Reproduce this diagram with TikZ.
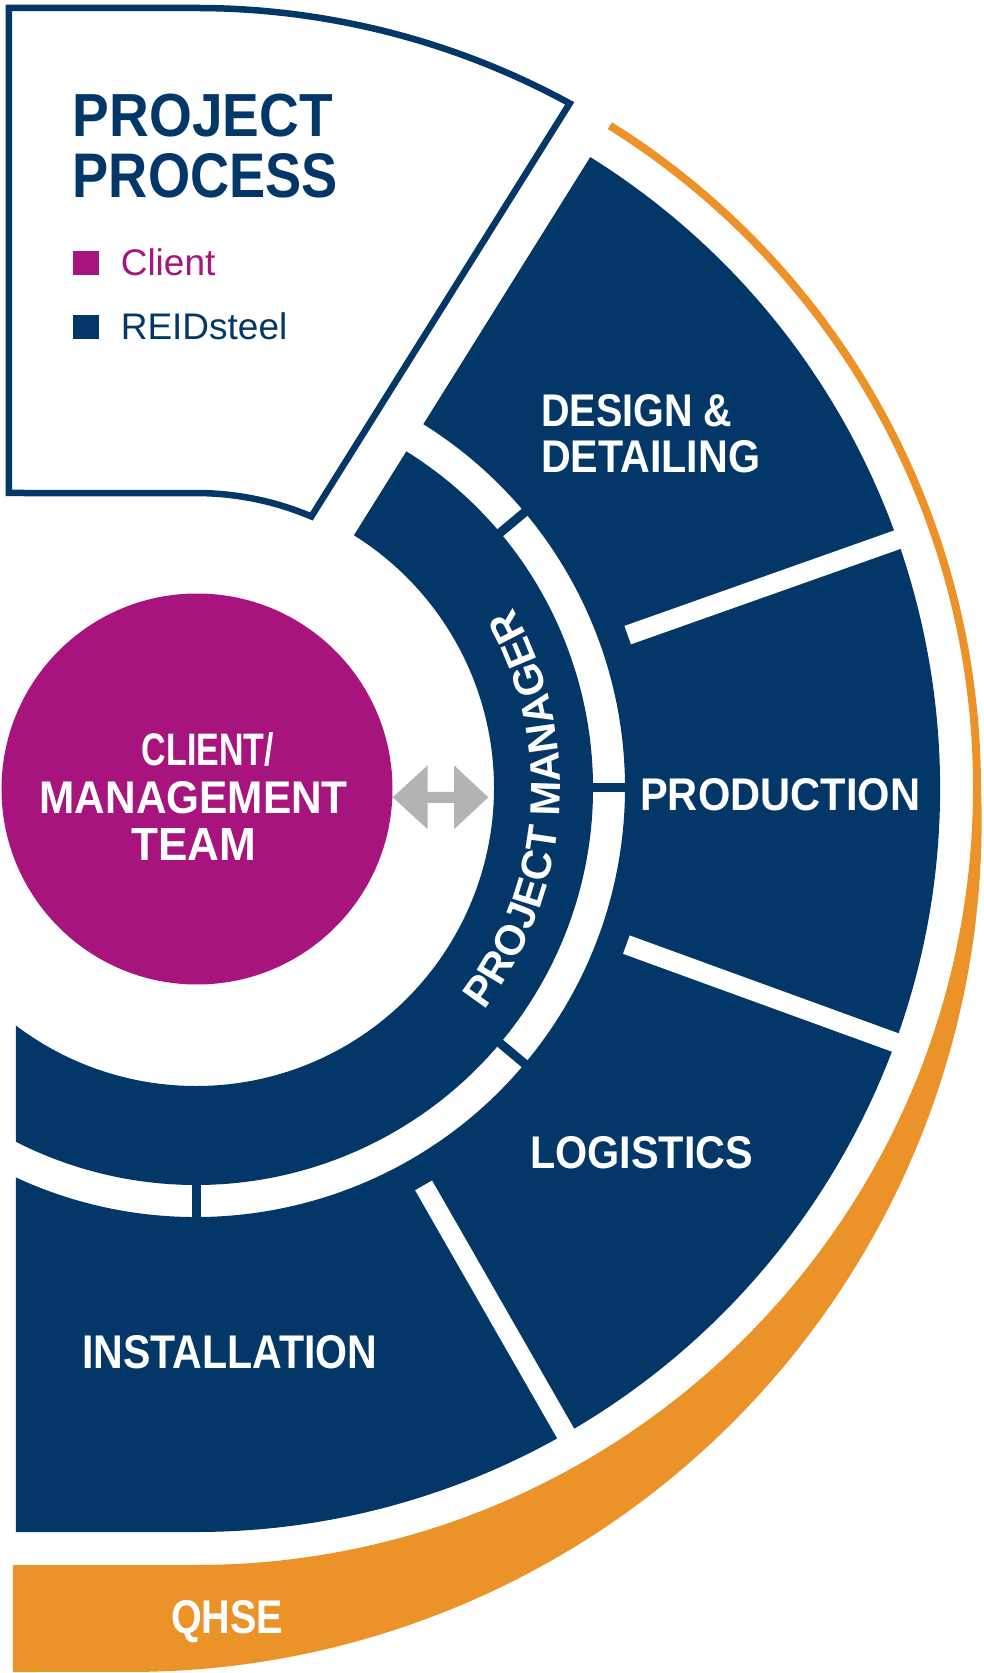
\documentclass[tikz,border=0pt]{standalone}
\usepackage{fontspec}
\usepackage{graphicx}
\usetikzlibrary{decorations.text}
\setmainfont{Liberation Sans}
\newfontfamily\heavy{Liberation Sans Bold}
\newfontfamily\plainsans{Liberation Sans}
\definecolor{rsnavy}{RGB}{3,55,104}
\definecolor{rsmag}{RGB}{168,20,126}
\definecolor{rsorange}{RGB}{235,146,41}
\definecolor{rsgrey}{RGB}{179,179,179}
\newcommand{\fitbox}[3]{\resizebox{#1pt}{#2pt}{#3}}
\tikzset{
  seglabel/.style={text=white, anchor=base west, inner sep=0pt, font=\heavy\fontsize{41}{41}\selectfont},
  centrelabel/.style={text=white, anchor=base, inner sep=0pt, font=\heavy\fontsize{42}{42}\selectfont},
  titlelabel/.style={text=rsnavy, anchor=base west, inner sep=0pt, font=\heavy\fontsize{54}{54}\selectfont},
  legendlabel/.style={anchor=base west, inner sep=0pt, font=\plainsans\fontsize{37}{37}\selectfont},
  separator/.style={white, line width=19.5pt},
  ringjoin/.style={rsnavy, line width=9pt},
}
\begin{document}
\begin{tikzpicture}[x=1pt,y=1pt]
\useasboundingbox (-196,-885) rectangle (788,788);

% orange QHSE band
\fill[rsorange] (58:777) -- (58:785) arc[start angle=58, end angle=0, radius=785]
  arc[start angle=2.22, end angle=-90, radius=851]
  -- (-183,-884) -- (-183,-777) -- (0,-777) arc[start angle=-90, end angle=58, radius=777] -- cycle;

\begin{scope}
  \clip (-180,-884) rectangle (788,788);
  % outer segments (one dark body)
  \fill[rsnavy] (58:429) -- (58:744) arc[start angle=58, end angle=-90, radius=744]
    -- (-250,-744) -- (-125:429) arc[start angle=-125, end angle=58, radius=429] -- cycle;
  % project manager ring
  \fill[rsnavy] (58:298) -- (58:397) arc[start angle=58, end angle=-140, radius=397]
    -- (-140:298) arc[start angle=-140, end angle=58, radius=298] -- cycle;
  % dark joins across the white ring
  \foreach \a in {40,0,-40,-90} \draw[ringjoin] (\a:390) -- (\a:436);
\end{scope}

% white separators between outer segments
\foreach \a in {19.5,-20,-60.2} \draw[separator] (\a:458) -- (\a:770);

% legend box
\draw[rsnavy, line width=6.5pt, line join=miter, fill=white]
  (-187,780) -- (0,780) arc[start angle=90, end angle=61.37, radius=780]
  -- (115.4,271.5) arc[start angle=67.0, end angle=90, radius=295]
  -- (-187,295) -- cycle;

% client circle
\fill[rsmag] (1,-1) circle (195.5);

% two-way arrow
\fill[rsgrey] (196.7,-9.3) -- (231.7,22.7) -- (231.7,-3.8) -- (258,-3.8) -- (258,22.7)
  -- (292.3,-9.3) -- (258,-41.3) -- (258,-14.8) -- (231.7,-14.8) -- (231.7,-41.3) -- cycle;

% project manager curved text
\path[decorate, decoration={text along path, text align=center, text color=white,
  text={|\heavy\fontsize{42}{42}\selectfont|PROJECT MANAGER}}]
  (-45:364) arc[start angle=-45, end angle=37, radius=364];

% titles and legend
\node[titlelabel] (title1) at (-123.4,651.4) {\fitbox{260}{42.5}{PROJECT}};
\node[titlelabel] (title2) at (-123.4,590.6) {\fitbox{265}{44}{PROCESS}};
\fill[rsmag] (-123.4,512.7) rectangle (-96.7,537.2);
\fill[rsnavy] (-123.4,448.6) rectangle (-96.7,473.1);
\node[legendlabel, text=rsmag] (legclient) at (-75.4,512.7) {Client};
\node[legendlabel, text=rsnavy] (legreid) at (-75.4,448.6) {REIDsteel};

% segment labels
\node[seglabel] (design1) at (345,361) {\fitbox{191}{32}{DESIGN \&}};
\node[seglabel] (design2) at (345,315) {\fitbox{219}{32}{DETAILING}};
\node[seglabel] (production) at (444,-23) {\fitbox{280}{32}{PRODUCTION}};
\node[seglabel] (logistics) at (334,-380.6) {\fitbox{223}{32}{LOGISTICS}};
\node[seglabel] (installation) at (-114,-580) {\fitbox{295}{33}{INSTALLATION}};
\node[seglabel] (qhse) at (-25,-845) {\fitbox{112}{33}{QHSE}};

% centre labels
\node[centrelabel] (client1) at (12,22) {\fitbox{132}{33}{CLIENT/}};
\node[centrelabel] (client2) at (-2.3,-25) {\fitbox{308}{32}{MANAGEMENT}};
\node[centrelabel] (client3) at (-2.3,-72) {\fitbox{125}{32}{TEAM}};
\end{tikzpicture}
\end{document}
